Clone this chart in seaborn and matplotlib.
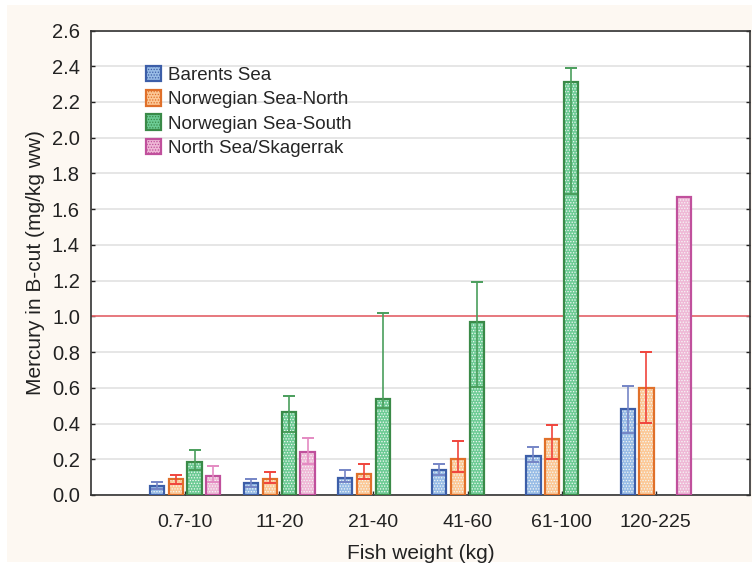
import matplotlib
matplotlib.use("Agg")
import matplotlib.pyplot as plt
from matplotlib.patches import Rectangle
import seaborn as sns
import pandas as pd
import numpy as np

weights = ["0.7-10", "11-20", "21-40", "41-60", "61-100", "120-225"]
regions = ["Barents Sea", "Norwegian Sea-North", "Norwegian Sea-South", "North Sea/Skagerrak"]

# mean mercury, lower and upper end of the error bar (nan = no data)
mean_barents = [0.05, 0.065, 0.093, 0.138, 0.216, 0.479]
low_barents = [0.032, 0.045, 0.07, 0.11, 0.183, 0.348]
high_barents = [0.074, 0.088, 0.14, 0.175, 0.27, 0.611]

mean_north = [0.09, 0.09, 0.12, 0.2, 0.313, 0.60]
low_north = [0.06, 0.065, 0.088, 0.127, 0.201, 0.404]
high_north = [0.11, 0.127, 0.173, 0.303, 0.393, 0.801]

mean_south = [0.185, 0.462, 0.535, 0.97, 2.313, np.nan]
low_south = [0.14, 0.35, 0.486, 0.604, 1.683, np.nan]
high_south = [0.25, 0.555, 1.02, 1.195, 2.391, np.nan]

mean_skag = [0.108, 0.239, np.nan, np.nan, np.nan, 1.668]
low_skag = [0.07, 0.173, np.nan, np.nan, np.nan, np.nan]
high_skag = [0.16, 0.317, np.nan, np.nan, np.nan, np.nan]

rows = []
for reg, m, lo, hi in zip(regions,
                          [mean_barents, mean_north, mean_south, mean_skag],
                          [low_barents, low_north, low_south, low_skag],
                          [high_barents, high_north, high_south, high_skag]):
    for w, a, b, c in zip(weights, m, lo, hi):
        rows.append({"weight": w, "region": reg, "mercury": a, "low": b, "high": c})
df = pd.DataFrame(rows).dropna(subset=["mercury"])

edge_cols = ["#3c5ea8", "#e0702a", "#3a8a48", "#c0509c"]
fill_cols = ["#98bce6", "#fcc896", "#6ccb94", "#efb8d6"]
err_cols = ["#7585c6", "#f0443c", "#4a9e5c", "#e48ac2"]

sns.set_theme(style="white")
plt.rcParams["font.family"] = ["Liberation Sans", "DejaVu Sans"]
plt.rcParams["hatch.linewidth"] = 0.6

fig = plt.figure(figsize=(7.52, 5.66), dpi=100)
fig.patch.set_facecolor("white")
fig.add_artist(Rectangle((7 / 752, 4 / 566), 1, 1 - 9 / 566, transform=fig.transFigure,
                         facecolor="#fdf8f2", edgecolor="none", zorder=-10))
ax = fig.add_axes([91 / 752, 1 - 495 / 566, 659 / 752, 464.5 / 566])
ax.set_facecolor("white")

sns.barplot(data=df, x="weight", y="mercury", hue="region", order=weights,
            hue_order=regions, errorbar=None, gap=0.25, width=0.8,
            palette=fill_cols, ax=ax, legend=False, zorder=3)

for i, (reg, cont) in enumerate(zip(regions, ax.containers)):
    sub = df[df.region == reg].set_index("weight").reindex(weights).dropna(subset=["mercury"])
    for bar, (_, r) in zip(cont.patches, sub.iterrows()):
        bar.set_facecolor(fill_cols[i])
        bar.set_edgecolor("#f4f8f6")
        bar.set_hatch("......")
        bar.set_linewidth(0)
        ax.add_patch(Rectangle(bar.get_xy(), bar.get_width(), bar.get_height(),
                               fill=False, edgecolor=edge_cols[i], linewidth=1.6, zorder=4))
        if not np.isnan(r["low"]):
            xc = bar.get_x() + bar.get_width() / 2
            ax.errorbar([xc], [r["mercury"]],
                        yerr=[[r["mercury"] - r["low"]], [r["high"] - r["mercury"]]],
                        fmt="none", ecolor=err_cols[i], elinewidth=1.2, capsize=4,
                        capthick=1.4, zorder=5)

ax.axhline(1.0, color="#e8666c", linewidth=1.2, zorder=2)

ax.set_xlim(-1, 6)
ax.set_ylim(0, 2.6)
ax.set_yticks(np.arange(0, 2.61, 0.2))
ax.set_yticklabels([f"{v:.1f}" for v in np.arange(0, 2.61, 0.2)])
ax.yaxis.grid(True, color="#e2e2e2", linewidth=1.2, zorder=0)
ax.set_axisbelow(True)
for s in ax.spines.values():
    s.set_color("#333333")
    s.set_linewidth(1.2)
ax.tick_params(axis="y", direction="in", length=3, width=1, left=True, right=True,
               labelsize=14.5, pad=8, colors="#222222")
ax.tick_params(axis="x", direction="in", length=3, width=1, bottom=True,
               labelsize=14, pad=14, colors="#222222")

ax.set_xlabel("Fish weight (kg)", fontsize=15, color="#222222", labelpad=9)
ax.set_ylabel("Mercury in B-cut (mg/kg ww)", fontsize=15, color="#222222", labelpad=5)

handles = [Rectangle((0, 0), 1, 1, facecolor=fill_cols[i], edgecolor=edge_cols[i],
                     linewidth=1.6, hatch="......") for i in range(4)]
ax.legend(handles, regions, loc="upper left", bbox_to_anchor=(0.072, 0.94), frameon=False,
          fontsize=13.5, handlelength=0.8, handleheight=0.9, handletextpad=0.4,
          labelspacing=0.32, borderaxespad=0)

fig.savefig("out.png", dpi=100, facecolor=fig.get_facecolor())
